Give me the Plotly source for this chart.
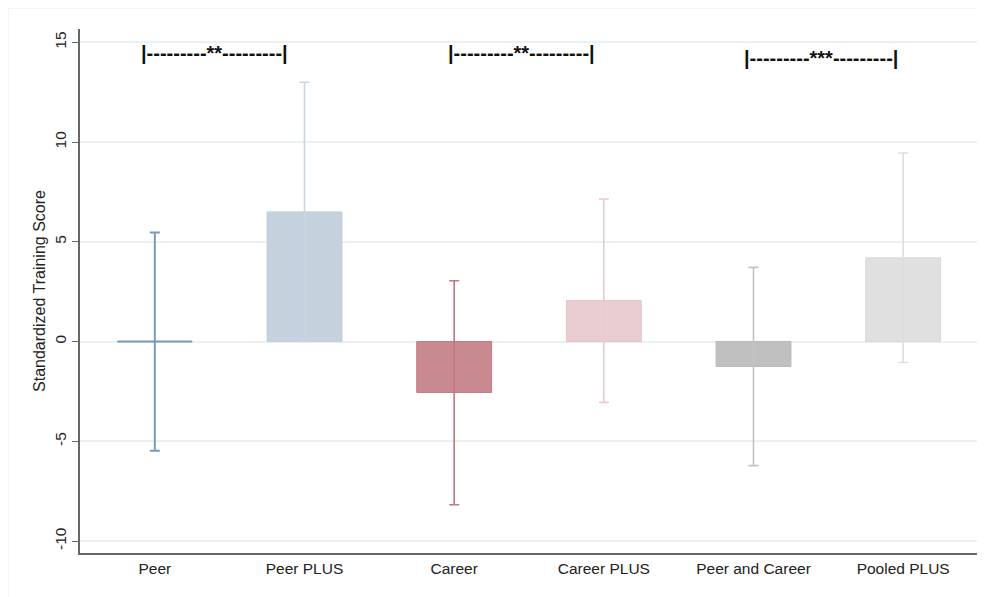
import plotly.graph_objects as go

categories = ["Peer", "Peer PLUS", "Career", "Career PLUS", "Peer and Career", "Pooled PLUS"]
means = [0.0, 6.5, -2.55, 2.05, -1.25, 4.2]
ci_upper = [5.47, 13.0, 3.05, 7.15, 3.72, 9.45]
ci_lower = [-5.47, 0.0, -8.18, -3.05, -6.22, -1.05]
fill_colors = ["#7d99b6", "#c5d2de", "#c98990", "#eacdd1", "#c0c0c0", "#e0e0e0"]
edge_colors = ["#7d99b6", "#bfcdda", "#c27980", "#e5c2c7", "#b8b8b8", "#d9d9d9"]
err_colors = ["#7d99b6", "#c8d5e1", "#c3777f", "#ebc9ce", "#c2c2c2", "#dddddd"]

sig_labels = ["|---------**---------|", "|---------**---------|", "|---------***---------|"]
sig_x = [0.4, 2.45, 4.45]
sig_y = [14.45, 14.45, 14.2]

FONT = "Liberation Sans, Arial, Helvetica, sans-serif"

fig = go.Figure()

for i, c in enumerate(categories):
    fig.add_trace(go.Bar(
        x=[c], y=[means[i]], width=0.5,
        marker=dict(color=fill_colors[i], line=dict(color=edge_colors[i], width=1)),
        showlegend=False, hoverinfo="skip",
    ))
    fig.add_trace(go.Scatter(
        x=[c], y=[means[i]], mode="markers",
        marker=dict(symbol="line-ew-open", size=53, color=edge_colors[i],
                    line=dict(color=edge_colors[i], width=2 if means[i] == 0 else 0.01)),
        error_y=dict(type="data", symmetric=False,
                     array=[ci_upper[i] - means[i]],
                     arrayminus=[means[i] - ci_lower[i]],
                     color=err_colors[i], thickness=2 if i == 0 else 1.6, width=5),
        showlegend=False, hoverinfo="skip",
    ))

for t, x, y in zip(sig_labels, sig_x, sig_y):
    fig.add_annotation(x=x, y=y, xref="x", yref="y", text="<b>" + t + "</b>", showarrow=False,
                       font=dict(family=FONT, size=20, color="#111111"))

fig.add_shape(type="rect", xref="paper", yref="paper",
              x0=-0.0802, x1=1.03, y0=-0.15, y1=1.0402,
              line=dict(color="#e3e8ea", width=1), fillcolor="rgba(0,0,0,0)", layer="below")

fig.update_layout(
    width=977, height=589,
    margin=dict(l=72, r=7, t=21, b=44),
    paper_bgcolor="white", plot_bgcolor="white",
    barmode="overlay",
    font=dict(family=FONT, size=15, color="#222222"),
    xaxis=dict(type="category", categoryorder="array", categoryarray=categories,
               range=[-0.5, 5.5], showgrid=False, zeroline=False, automargin=False,
               showline=True, linecolor="#666666", linewidth=2,
               ticks="", tickfont=dict(size=15.5)),
    yaxis=dict(range=[-10.6, 15.67], tickvals=[-10, -5, 0, 5, 10, 15],
               ticktext=["-10", "-5", "0", "5", "10", "15"], automargin=False,
               tickangle=-90, ticks="outside", ticklen=6, tickcolor="#666666",
               showgrid=True, gridcolor="#e9f1f2", gridwidth=1.5,
               zeroline=False, showline=True, linecolor="#666666", linewidth=2,
               tickfont=dict(size=15.5),
               title=dict(text="Standardized Training Score", font=dict(size=16), standoff=2)),
)

fig.write_html("out.html")
